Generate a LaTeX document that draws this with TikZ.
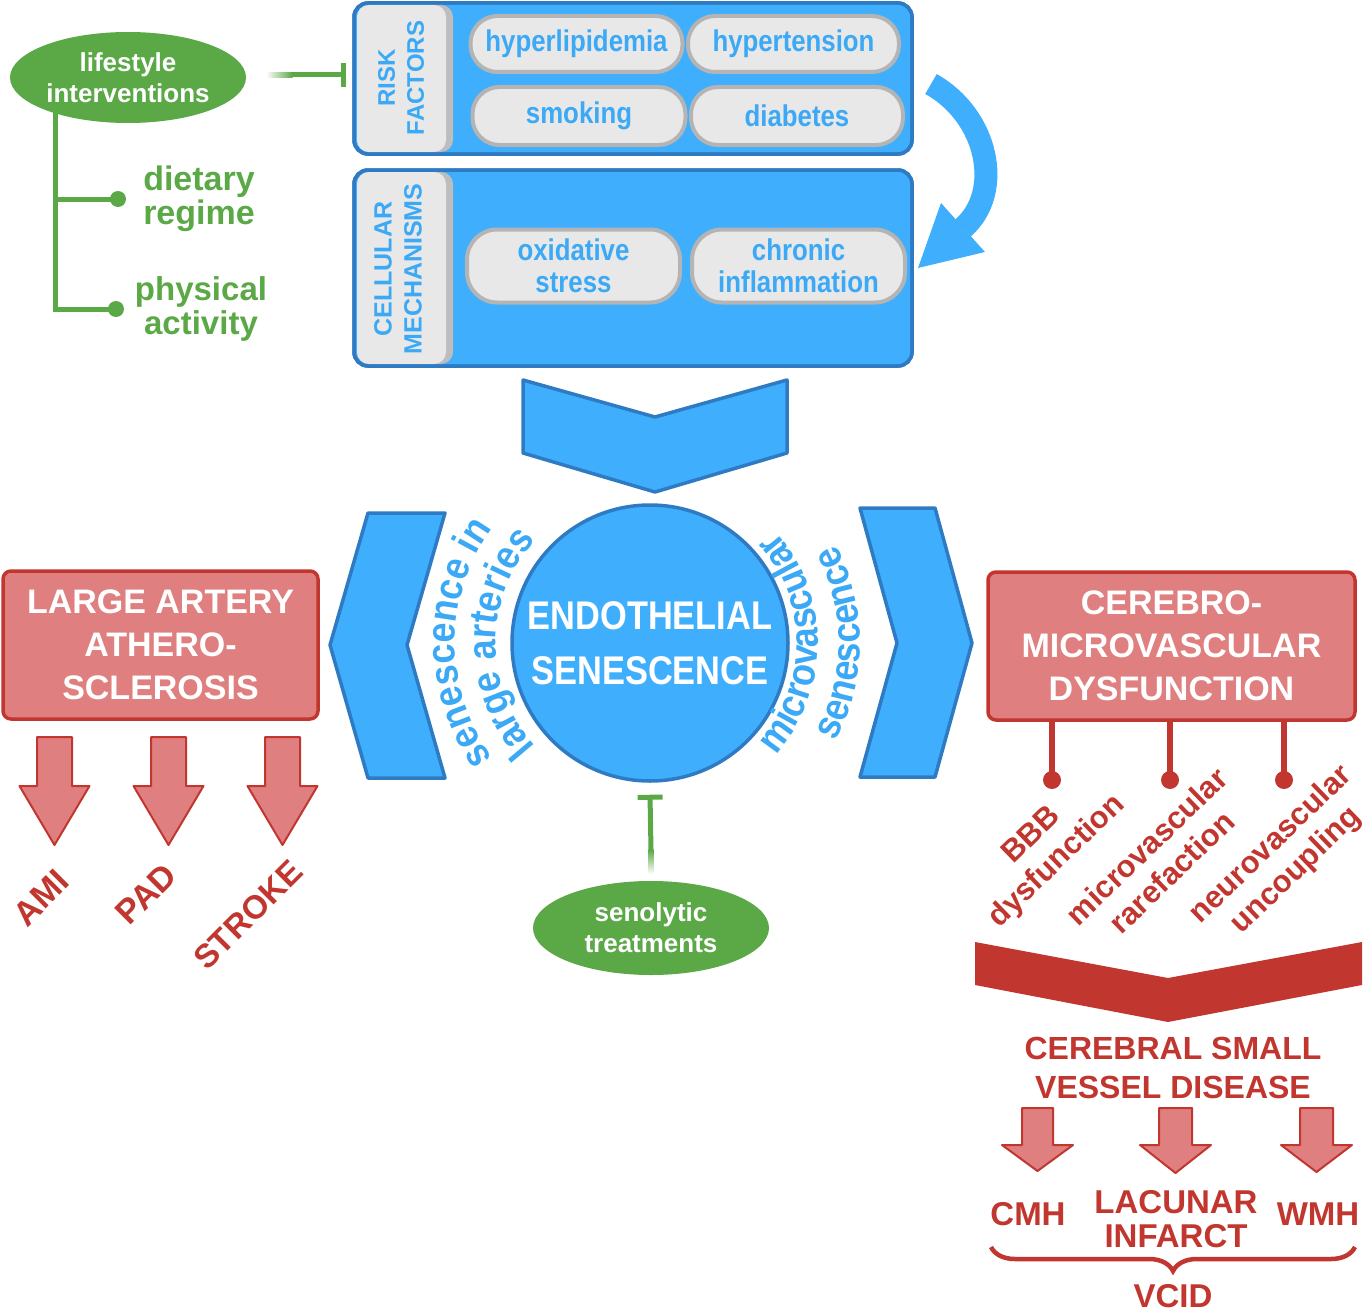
\documentclass[tikz,border=0pt]{standalone}
\usepackage{fontspec}
\setmainfont{Liberation Sans}
\newfontfamily\condf[FakeStretch=0.86]{Liberation Sans}
\newfontfamily\arcf[FakeStretch=0.9]{Liberation Sans}
\usetikzlibrary{shapes.geometric,arrows.meta,decorations.text,decorations.pathreplacing}
\definecolor{blueF}{HTML}{3FAFFD}
\definecolor{blueD}{HTML}{2E7BC4}
\definecolor{blueT}{HTML}{3BA9F5}
\definecolor{greyF}{HTML}{E8E8E8}
\definecolor{greyB}{HTML}{B4B4B4}
\definecolor{greyS}{HTML}{BDBDBD}
\definecolor{greenC}{HTML}{5AA846}
\definecolor{redF}{HTML}{E07F7F}
\definecolor{redD}{HTML}{C1362F}
\newcommand\blockarr[6]{%
  \filldraw[redarr] ({#1-#5},#2) -- ({#1+#5},#2) -- ({#1+#5},#3) -- ({#1+#6},#3) -- (#1,#4) -- ({#1-#6},#3) -- ({#1-#5},#3) -- cycle;}
\begin{document}
\begin{tikzpicture}[x=1pt,y=-1pt,
  pill/.style={draw=greyB, line width=4pt, fill=greyF, rounded corners=27pt, minimum height=56pt,
    text=blueT, font=\condf\bfseries\fontsize{30}{32}\selectfont, align=center, inner sep=0pt},
  bluebox/.style={fill=blueF, draw=blueD, line width=3.5pt, rounded corners=14pt},
  chev/.style={fill=blueF, draw=blueD, line width=3.5pt, line join=round},
  redbox/.style={fill=redF, draw=redD, line width=3.5pt, rounded corners=8pt, text=white,
    font=\bfseries\fontsize{34}{43}\selectfont, align=center, inner sep=0pt},
  redarr/.style={fill=redF, draw=redD, line width=2pt, line join=round},
  rlab/.style={text=redD, font=\bfseries\fontsize{31}{36}\selectfont, align=center, inner sep=0pt},
  rtxt/.style={text=redD, font=\bfseries\fontsize{33}{34}\selectfont, align=center, inner sep=0pt},
  gline/.style={draw=greenC, line width=5pt},
  gdot/.style={circle, fill=greenC, minimum size=16pt, inner sep=0pt},
  gtext/.style={text=greenC, font=\bfseries\fontsize{34}{34}\selectfont, align=center, inner sep=0pt},
  gell/.style={ellipse, fill=greenC, text=white, font=\bfseries\fontsize{26}{31}\selectfont, align=center, inner sep=0pt},
  tabtxt/.style={rotate=90, text=blueT, align=center, inner sep=0pt},
  pinl/.style={draw=redD, line width=6pt},
  rdot/.style={circle, fill=redD, minimum size=18pt, inner sep=0pt}
]
\useasboundingbox (0,0) rectangle (1369,1314);

% ---------- lifestyle interventions ----------
\node[gell, minimum width=236pt, minimum height=91pt] (life) at (128,77.5) {lifestyle\\interventions};
\node[gdot] (dD) at (118,199) {};
\node[gdot] (dP) at (116,309) {};
\draw[gline] (55,112) -- (55,309) -- (dP.center);
\draw[gline] (55,199) -- (dD.center);
\node[gtext] (dr) at (199,199) {dietary\\regime};
\node[gtext, font=\bfseries\fontsize{33}{34}\selectfont] (pa) at (201,309) {physical\\activity};

% ---------- risk factors box ----------
\draw[bluebox] (354,3) rectangle (912,154);
\fill[greyS, rounded corners=12pt] (357,5) rectangle (453,152);
\fill[greyF, rounded corners=12pt] (357,5) rectangle (446,152);
\draw[draw=blueD, line width=3.5pt, rounded corners=14pt] (354,3) rectangle (912,154);
\coordinate (rfW) at (354,75);
\node[tabtxt, font=\bfseries\fontsize{24}{29}\selectfont] (rft) at (401,78) {RISK\\FACTORS};
\node[pill, minimum width=212pt] (hyp) at (576.5,44) {hyperlipidemia};
\node[pill, minimum width=211pt] (hten) at (793.5,44) {hypertension};
\node[pill, minimum width=213pt, minimum height=58pt] (smk) at (579,116) {smoking};
\node[pill, minimum width=212pt, minimum height=58pt] (dia) at (797,116) {diabetes};

% ---------- cellular mechanisms box ----------
\draw[bluebox] (354,170) rectangle (912,366);
\fill[greyS, rounded corners=12pt] (357,172) rectangle (453,364);
\fill[greyF, rounded corners=12pt] (357,172) rectangle (446,364);
\draw[draw=blueD, line width=3.5pt, rounded corners=14pt] (354,170) rectangle (912,366);
\node[tabtxt, font=\bfseries\fontsize{25}{30}\selectfont] (cmt) at (398,269) {CELLULAR\\MECHANISMS};
\node[pill, minimum width=213pt, minimum height=73pt, rounded corners=30pt] (oxs) at (573.5,266) {oxidative\\stress};
\node[pill, minimum width=213pt, minimum height=73pt, rounded corners=30pt] (chi) at (798.5,266) {chronic\\inflammation};

% lifestyle inhibition
\coordinate (lifeT) at (292,75);
\shade[left color=white, right color=greenC] (266,72.5) rectangle (292.5,77.5);
\draw[gline, -{Bar[width=24pt]}] (lifeT) -- ([xshift=-8pt]rfW);

% curved arrow
\coordinate (caS) at (931,84);
\coordinate (caE) at (963,228);
\draw[blueF, line width=23pt] (caS) .. controls (988,116) and (1004,192) .. (caE);
\fill[blueF] (941,203) -- (985,252) -- (918,268) -- cycle;

% ---------- centre ----------
\filldraw[chev] (523,380) -- (655,417) -- (787,380) -- (787,453) -- (655,492) -- (523,453) -- cycle;
\filldraw[chev] (368,513) -- (445,513) -- (407,645) -- (445,778) -- (368,778) -- (330,645) -- cycle;
\filldraw[chev] (860,508) -- (935,508) -- (972,643) -- (935,777) -- (860,777) -- (897,643) -- cycle;
\node[circle, fill=blueF, draw=blueD, line width=3.5pt, minimum size=276pt, inner sep=0pt,
  text=white, font=\condf\bfseries\fontsize{40}{55}\selectfont, align=center] (es) at (650,643)
  {ENDOTHELIAL\\SENESCENCE};

\path[decorate, decoration={text along path, text align=center,
  text={|\arcf\bfseries\fontsize{40}{40}\selectfont\color{blueT}|senescence in}}]
  (650,643) ++(110:195) arc[start angle=110, end angle=250, radius=195];
\path[decorate, decoration={text along path, text align=center,
  text={|\arcf\bfseries\fontsize{40}{40}\selectfont\color{blueT}|large arteries}}]
  (650,643) ++(110:154) arc[start angle=110, end angle=250, radius=154];
\path[decorate, decoration={text along path, text align=center,
  text={|\arcf\bfseries\fontsize{40}{40}\selectfont\color{blueT}|microvascular}}]
  (650,643) ++(75:168) arc[start angle=75, end angle=-75, radius=168];
\path[decorate, decoration={text along path, text align=center,
  text={|\arcf\bfseries\fontsize{40}{40}\selectfont\color{blueT}|senescence}}]
  (650,643) ++(75:210) arc[start angle=75, end angle=-75, radius=210];

% senolytic
\node[gell, minimum width=236pt, minimum height=94pt] (sen) at (651,928) {senolytic\\treatments};
\coordinate (senT) at (651,850);
\shade[top color=greenC, bottom color=white] (648.5,849.5) rectangle (653.5,874);
\draw[gline, -{Bar[width=25pt]}] (senT) -- ([yshift=-12pt]es.south);

% ---------- large artery ----------
\node[redbox, minimum width=315pt, minimum height=148pt] (la) at (160.5,645) {LARGE ARTERY\\ATHERO-\\SCLEROSIS};
\blockarr{54.5}{737}{786}{845}{17.5}{35}
\blockarr{168.5}{737}{786}{845}{17.5}{35}
\blockarr{282.5}{737}{786}{845}{17.5}{35}
\node[rlab, rotate=45, font=\bfseries\fontsize{34}{36}\selectfont] (ami) at (41,898) {AMI};
\node[rlab, rotate=45, font=\bfseries\fontsize{34}{36}\selectfont] (pad) at (146,894) {PAD};
\node[rlab, rotate=45, font=\bfseries\fontsize{33}{36}\selectfont] (stk) at (248,915) {STROKE};

% ---------- cerebromicrovascular ----------
\node[redbox, minimum width=367pt, minimum height=148pt] (cmd) at (1171.5,646) {CEREBRO-\\MICROVASCULAR\\DYSFUNCTION};
\node[rdot] (p1) at (1052,780) {};
\node[rdot] (p2) at (1170,780) {};
\node[rdot] (p3) at (1284,780) {};
\draw[pinl] ([xshift=-119.5pt]cmd.south) -- (p1.center);
\draw[pinl] ([xshift=-1.5pt]cmd.south) -- (p2.center);
\draw[pinl] ([xshift=112.5pt]cmd.south) -- (p3.center);
\node[rlab, rotate=44] (bbb) at (1045,849) {BBB\\dysfunction};
\node[rlab, rotate=44] (mvr) at (1159,859) {microvascular\\rarefaction};
\node[rlab, rotate=44] (nvu) at (1284,858) {neurovascular\\uncoupling};

\fill[redD] (975,942) -- (1168,978) -- (1362,942) -- (1362,985) -- (1168,1022) -- (975,985) -- cycle;
\node[rtxt, font=\bfseries\fontsize{32}{39}\selectfont] (csvd) at (1173,1068) {CEREBRAL SMALL\\VESSEL DISEASE};
\blockarr{1037.5}{1108}{1145}{1171}{15.5}{35.5}
\blockarr{1175.5}{1108}{1145}{1173}{16.5}{35.5}
\blockarr{1316.5}{1108}{1145}{1172}{16.5}{35.5}
\node[rtxt] (cmh) at (1028,1214) {CMH};
\node[rtxt] (lac) at (1176,1219) {LACUNAR\\INFARCT};
\node[rtxt] (wmh) at (1318,1214) {WMH};
\draw[redD, line width=4.5pt, decorate, decoration={brace, mirror, amplitude=24pt}] (991,1247) -- (1355,1247);
\node[rtxt] (vcid) at (1173,1296) {VCID};
\end{tikzpicture}
\end{document}
